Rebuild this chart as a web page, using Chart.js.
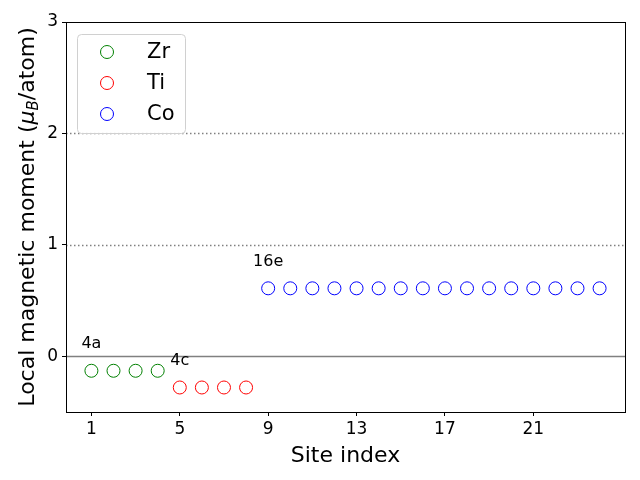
<!DOCTYPE html>
<html>
<head>
<meta charset="utf-8">
<script src="https://cdn.jsdelivr.net/npm/chart.js@4"></script>
<style>
  html, body { margin: 0; padding: 0; background: #fff; }
  #wrap { width: 640px; height: 480px; }
</style>
</head>
<body>
<div id="wrap"><canvas id="chart" width="640" height="480"></canvas></div>
<script>
// sites and moments
var zrSites = [1, 2, 3, 4];
var zrMoments = [-0.13, -0.13, -0.13, -0.13];
var tiSites = [5, 6, 7, 8];
var tiMoments = [-0.28, -0.28, -0.28, -0.28];
var coSites = [9, 10, 11, 12, 13, 14, 15, 16, 17, 18, 19, 20, 21, 22, 23, 24];
var coMoments = [0.61, 0.61, 0.61, 0.61, 0.61, 0.61, 0.61, 0.61, 0.61, 0.61, 0.61, 0.61, 0.61, 0.61, 0.61, 0.61];
var wyckoff = ['4a', '4c', '16e'];
var xTicks = [1, 5, 9, 13, 17, 21];
var yTicks = [0, 1, 2, 3];
var dottedLevels = [1, 2];

var FONT = "'DejaVu Sans', sans-serif";

function pts(xs, ys) {
    return xs.map(function(x, i) { return {x: x, y: ys[i]}; });
}

var series = [
    {label: 'Zr', color: 'green', xs: zrSites, ys: zrMoments, tag: wyckoff[0]},
    {label: 'Ti', color: 'red', xs: tiSites, ys: tiMoments, tag: wyckoff[1]},
    {label: 'Co', color: 'blue', xs: coSites, ys: coMoments, tag: wyckoff[2]}
];

// reference lines, site labels, axis titles and legend
var extras = {
    id: 'extras',
    beforeDatasetsDraw: function(chart) {
        var ctx = chart.ctx, a = chart.chartArea;
        var ys = chart.scales.y;
        ctx.save();
        ctx.lineWidth = 1.5;
        ctx.strokeStyle = 'gray';
        dottedLevels.forEach(function(v) {
            var py = Math.round(ys.getPixelForValue(v)) + 0.5;
            ctx.setLineDash([1.5, 2.5]);
            ctx.beginPath(); ctx.moveTo(a.left, py); ctx.lineTo(a.right, py); ctx.stroke();
        });
        ctx.setLineDash([]);
        var p0 = Math.round(ys.getPixelForValue(0)) + 0.5;
        ctx.beginPath(); ctx.moveTo(a.left, p0); ctx.lineTo(a.right, p0); ctx.stroke();
        ctx.restore();
    },
    afterDraw: function(chart) {
        var ctx = chart.ctx, a = chart.chartArea;
        var xs = chart.scales.x, ys = chart.scales.y;
        ctx.save();
        // frame
        ctx.strokeStyle = '#000';
        ctx.lineWidth = 1;
        ctx.strokeRect(Math.round(a.left) + 0.5, Math.round(a.top) + 0.5,
            Math.round(a.right - a.left), Math.round(a.bottom - a.top));
        // site labels
        ctx.fillStyle = '#000';
        ctx.font = '16px ' + FONT;
        ctx.textAlign = 'center';
        ctx.textBaseline = 'alphabetic';
        series.forEach(function(s) {
            ctx.fillText(s.tag, xs.getPixelForValue(s.xs[0]), ys.getPixelForValue(s.ys[0] + 0.2));
        });
        // x title
        ctx.font = '22px ' + FONT;
        ctx.textAlign = 'center';
        ctx.fillText('Site index', (a.left + a.right) / 2, 462);
        // y title with subscript
        ctx.translate(34, (a.top + a.bottom) / 2);
        ctx.rotate(-Math.PI / 2);
        var p1 = 'Local magnetic moment (', p2 = 'μ', p3 = 'B', p4 = '/atom)';
        ctx.font = '22px ' + FONT;
        var w1 = ctx.measureText(p1).width;
        ctx.font = 'italic 22px ' + FONT;
        var w2 = ctx.measureText(p2).width;
        ctx.font = 'italic 15px ' + FONT;
        var w3 = ctx.measureText(p3).width;
        ctx.font = '22px ' + FONT;
        var w4 = ctx.measureText(p4).width;
        var x = -(w1 + w2 + w3 + w4) / 2;
        ctx.textAlign = 'left';
        ctx.fillText(p1, x, 0); x += w1;
        ctx.font = 'italic 22px ' + FONT;
        ctx.fillText(p2, x, 0); x += w2;
        ctx.font = 'italic 15px ' + FONT;
        ctx.fillText(p3, x, 4); x += w3;
        ctx.font = '22px ' + FONT;
        ctx.fillText(p4, x, 0);
        ctx.restore();

        // legend
        ctx.save();
        var lx = 77, ly = 34, lw = 108, lh = 99;
        ctx.fillStyle = 'rgba(255,255,255,0.8)';
        ctx.strokeStyle = '#d0d0d0';
        ctx.lineWidth = 1;
        ctx.beginPath();
        ctx.roundRect(lx + 0.5, ly + 0.5, lw, lh, 4);
        ctx.fill(); ctx.stroke();
        ctx.font = '21px ' + FONT;
        ctx.textAlign = 'left';
        ctx.textBaseline = 'middle';
        series.forEach(function(s, i) {
            var cy = 52 + i * 31;
            ctx.strokeStyle = s.color;
            ctx.beginPath(); ctx.arc(107, cy, 6.5, 0, Math.PI * 2); ctx.stroke();
            ctx.fillStyle = '#000';
            ctx.fillText(s.label, 147, cy + 1);
        });
        ctx.restore();
    }
};

var datasets = series.map(function(s) {
    return {
        label: s.label,
        data: pts(s.xs, s.ys),
        showLine: false,
        pointStyle: 'circle',
        pointRadius: 6.5,
        pointHoverRadius: 6.5,
        pointBorderWidth: 1,
        borderColor: s.color,
        backgroundColor: 'rgba(0,0,0,0)'
    };
});

new Chart(document.getElementById('chart').getContext('2d'), {
    type: 'scatter',
    data: {datasets: datasets},
    options: {
        responsive: false,
        animation: false,
        events: [],
        layout: {padding: {left: 0, right: 15, top: 22, bottom: 0}},
        plugins: {legend: {display: false}, tooltip: {enabled: false}},
        scales: {
            x: {
                type: 'linear',
                min: -0.15,
                max: 25.15,
                afterBuildTicks: function(scale) {
                    scale.ticks = xTicks.map(function(v) { return {value: v}; });
                },
                afterFit: function(scale) { scale.height = 68; },
                grid: {drawOnChartArea: false, drawTicks: true, tickLength: 4, color: '#000'},
                border: {color: '#000', width: 1},
                ticks: {color: '#000', padding: 3, font: {family: FONT, size: 17}, maxRotation: 0}
            },
            y: {
                type: 'linear',
                min: -0.5,
                max: 3,
                afterBuildTicks: function(scale) {
                    scale.ticks = yTicks.map(function(v) { return {value: v}; });
                },
                afterFit: function(scale) { scale.width = 66; },
                grid: {drawOnChartArea: false, drawTicks: true, tickLength: 4, color: '#000'},
                border: {color: '#000', width: 1},
                ticks: {color: '#000', padding: 4, font: {family: FONT, size: 17}}
            }
        }
    },
    plugins: [extras]
});
</script>
</body>
</html>
